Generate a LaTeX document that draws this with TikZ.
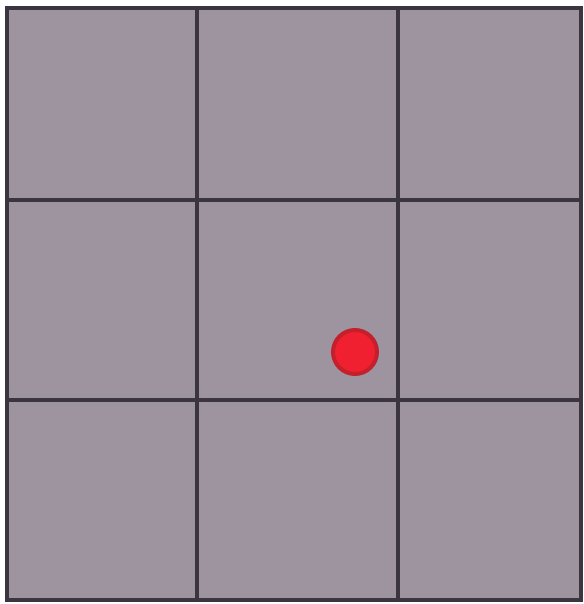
\documentclass[tikz,border=0pt]{standalone}
\definecolor{cellfill}{HTML}{9E949F}
\definecolor{gridline}{HTML}{3B3540}
\definecolor{dotin}{HTML}{F02030}
\definecolor{dotrim}{HTML}{C4202C}
\tikzset{gridstroke/.style={draw=gridline,line width=4.5pt}}
\begin{document}
\begin{tikzpicture}[x=1pt,y=-1pt]
\useasboundingbox (0,0) rectangle (583,604);
\fill[white] (0,0) rectangle (583,604);
\fill[cellfill] (7,8) rectangle (581,600);
\draw[gridstroke] (197,8) -- (197,600);
\draw[gridstroke] (398,8) -- (398,600);
\draw[gridstroke] (7,200) -- (581,200);
\draw[gridstroke] (7,400) -- (581,400);
\draw[gridstroke] (7,8) rectangle (581,600);
\node[circle,fill=dotin,draw=dotrim,line width=4pt,minimum size=44pt,inner sep=0pt] (dot) at (355,352) {};
\end{tikzpicture}
\end{document}
